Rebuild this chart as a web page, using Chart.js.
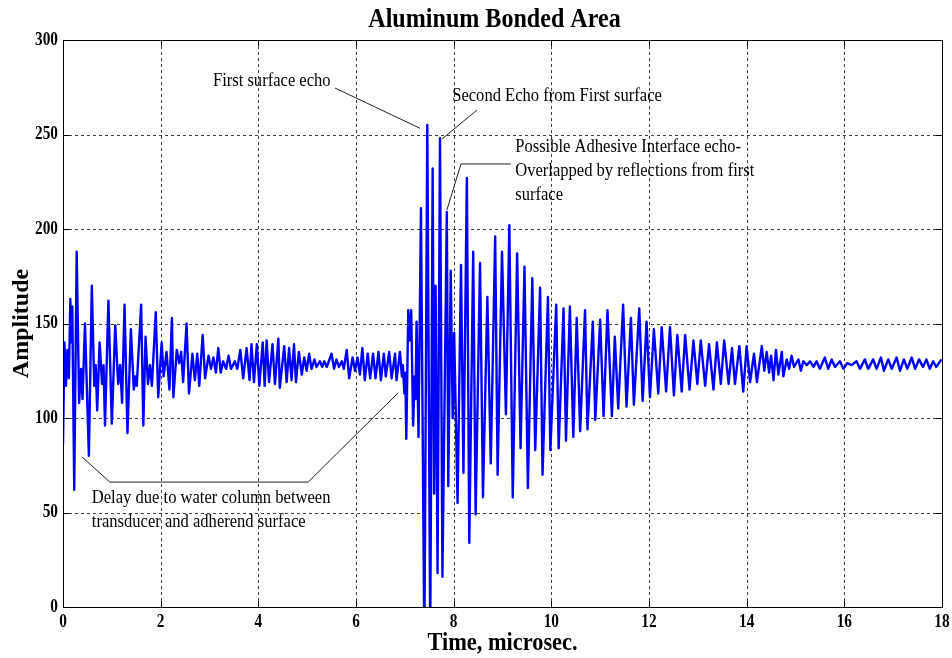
<!DOCTYPE html>
<html>
<head>
<meta charset="utf-8">
<title>Aluminum Bonded Area</title>
<script src="https://cdn.jsdelivr.net/npm/chart.js@4.4.1/dist/chart.umd.min.js"></script>
<style>
  html, body { margin: 0; padding: 0; background: #fff; }
  #wrap { width: 952px; height: 658px; }
</style>
</head>
<body>
<div id="wrap"><canvas id="scan" width="952" height="658"></canvas></div>
<script>
// A-scan turning points (time in microsec., amplitude in counts)
// water path delay / front wall ringing
const delayTime = [0.00, 0.03, 0.06, 0.09, 0.12, 0.15, 0.17, 0.19, 0.23, 0.28, 0.33, 0.37, 0.40, 0.45, 0.53, 0.59,
  0.64, 0.67, 0.70, 0.75, 0.80, 0.83, 0.86, 0.93, 1.00, 1.07, 1.13, 1.17, 1.21, 1.26, 1.32, 1.39, 1.45, 1.48, 1.51,
  1.60, 1.645, 1.69, 1.74, 1.78, 1.82, 1.90, 1.95, 2.02, 2.06, 2.12, 2.18, 2.23, 2.26, 2.33, 2.38, 2.42, 2.46, 2.53,
  2.58, 2.65, 2.70, 2.75, 2.79, 2.86, 2.91, 2.98, 3.03, 3.08, 3.13, 3.18, 3.23, 3.28, 3.34, 3.39, 3.44, 3.52, 3.57,
  3.63, 3.69, 3.76, 3.82, 3.86, 3.91, 3.97, 4.02, 4.09, 4.13, 4.17, 4.22, 4.29, 4.34, 4.41, 4.44, 4.53, 4.58, 4.63,
  4.68, 4.73, 4.77, 4.83, 4.89, 4.94, 4.99, 5.04, 5.09, 5.15, 5.19, 5.26, 5.31, 5.35, 5.40, 5.50, 5.55, 5.60, 5.65,
  5.71, 5.75, 5.81, 5.86, 5.93, 5.98, 6.03, 6.08, 6.13, 6.18, 6.24, 6.29, 6.35, 6.40, 6.46, 6.51, 6.57, 6.61, 6.68,
  6.73, 6.80, 6.83, 6.90, 6.94, 6.96];
const delayAmp = [86, 140, 117, 136, 121, 163, 140, 159, 62, 188, 108, 126, 110, 150, 80, 170,
  117, 128, 104, 140, 118, 128, 96, 162, 97, 149, 118, 128, 108, 160, 92, 147, 115, 122, 117,
  160, 96, 143, 118, 128, 117, 156, 111, 140, 122, 135, 115, 153, 111, 136, 129, 135, 119, 150,
  113, 134, 120, 134, 117, 144, 121, 133, 126, 132, 124, 137, 124, 130, 126, 133, 126, 130, 126,
  136, 121, 137, 120, 139, 119, 139, 117, 140, 117, 141, 119, 139, 118, 142, 116, 138, 119, 137,
  120, 139, 119, 135, 123, 132, 125, 134, 126, 131, 127, 130, 127, 130, 127, 134, 126, 131, 127,
  130, 126, 136, 121, 132, 125, 132, 123, 137, 120, 134, 121, 134, 121, 135, 120, 134, 122, 135,
  121, 134, 120, 135, 122, 128];

// echoes from the first surface and the bond line
const burstTime = [6.99, 7.01, 7.03, 7.07, 7.10, 7.13, 7.17, 7.20, 7.22, 7.24, 7.28, 7.33, 7.40, 7.46, 7.52, 7.57,
  7.60, 7.63, 7.67, 7.72, 7.77, 7.86, 7.89, 7.94, 7.98, 8.01, 8.08, 8.15, 8.20, 8.27, 8.32, 8.40, 8.45, 8.54, 8.60,
  8.69, 8.76, 8.85, 8.90, 8.99, 9.07, 9.14, 9.21, 9.30, 9.37, 9.45, 9.52, 9.61, 9.67, 9.77, 9.82, 9.93, 9.98, 10.10,
  10.15, 10.25, 10.30, 10.38, 10.45, 10.52, 10.59, 10.69, 10.74, 10.85, 10.90, 11.00];
const burstAmp = [113, 124, 89, 157, 141, 157, 96, 122, 110, 151, 90, 211, -20, 255, -15, 232,
  60, 170, 18, 248, 16, 209, 64, 178, 100, 145, 55, 181, 71, 227, 34, 188, 49, 182, 58,
  164, 76, 196, 70, 188, 102, 202, 58, 187, 84, 180, 63, 174, 83, 169, 70, 164, 83, 160,
  84, 158, 88, 159, 90, 153, 93, 157, 94, 151, 99, 152];

// decaying reverberation
const tailTime = [11.07, 11.15, 11.24, 11.30, 11.37, 11.47, 11.54, 11.63, 11.69, 11.80, 11.87, 11.95, 12.02, 12.10,
  12.19, 12.26, 12.35, 12.43, 12.51, 12.58, 12.67, 12.74, 12.83, 12.91, 12.99, 13.06, 13.15, 13.23, 13.32, 13.39,
  13.47, 13.54, 13.63, 13.70, 13.76, 13.85, 13.93, 14.00, 14.07, 14.15, 14.21, 14.31, 14.36, 14.41, 14.46, 14.50,
  14.55, 14.60, 14.65, 14.72, 14.75, 14.82, 14.87, 14.92, 14.97, 15.06, 15.11, 15.16, 15.23, 15.30, 15.37, 15.43,
  15.50, 15.60, 15.67, 15.74, 15.81, 15.91, 15.98, 16.06, 16.15, 16.25, 16.32, 16.42, 16.49, 16.59, 16.66, 16.75,
  16.81, 16.90, 16.97, 17.07, 17.14, 17.22, 17.29, 17.38, 17.45, 17.53, 17.61, 17.68, 17.75, 17.82, 17.88, 17.99];
const tailAmp = [101, 157, 101, 143, 105, 160, 106, 153, 107, 158, 109, 151, 111, 147,
  113, 148, 114, 148, 112, 144, 114, 144, 115, 141, 118, 141, 117, 139, 115, 140,
  118, 141, 118, 137, 118, 138, 114, 138, 119, 134, 119, 138, 125, 135, 124, 133,
  120, 136, 123, 135, 122, 131, 126, 133, 127, 131, 125, 130, 128, 130, 127, 130,
  126, 132, 126, 131, 127, 130, 126, 129, 128, 130, 126, 131, 126, 131, 126, 132,
  125, 131, 126, 132, 125, 131, 126, 132, 126, 131, 127, 131, 126, 130, 127, 131];

const xTicks = [0, 2, 4, 6, 8, 10, 12, 14, 16, 18];
const yTicks = [0, 50, 100, 150, 200, 250, 300];

const chartTitle = 'Aluminum Bonded Area';
const xTitle = 'Time, microsec.';
const yTitle = 'Amplitude';

// callouts, anchored in data units (t, amplitude)
const notes = [
  { text: ['First surface echo'], at: [3.07, 278] },
  { text: ['Second Echo from First surface'], at: [7.97, 270] },
  { text: ['Possible Adhesive Interface echo-', 'Overlapped by reflections from first', 'surface'], at: [9.26, 243.5] },
  { text: ['Delay due to water column between', 'transducer and adherend surface'], at: [0.59, 57.5] }
];
const leaders = [
  [[5.57, 274.6], [7.31, 253.3]],
  [[8.48, 263.0], [7.76, 247.6]],
  [[9.17, 234.4], [8.15, 234.4], [7.86, 210.0]],
  [[0.39, 79.4], [0.96, 66.1], [5.02, 66.1], [6.86, 113.2]]
];

function toPoints(ts, vs) {
  return ts.map((t, i) => ({ x: t, y: vs[i] }));
}
const scanPoints = [].concat(
  toPoints(delayTime, delayAmp),
  toPoints(burstTime, burstAmp),
  toPoints(tailTime, tailAmp)
);

const SERIF = '"Liberation Serif", "Times New Roman", serif';

// text drawn narrower than the font, like the old MATLAB export
function squeezedText(ctx, str, x, y, font, sx, align, angle) {
  ctx.save();
  ctx.translate(x, y);
  if (angle) ctx.rotate(angle);
  ctx.scale(sx, 1);
  ctx.font = font;
  ctx.fillStyle = '#000';
  ctx.textAlign = align || 'center';
  ctx.textBaseline = 'middle';
  ctx.fillText(str, 0, 0);
  ctx.restore();
}

const matlabAxes = {
  id: 'matlabAxes',
  beforeDatasetsDraw(chart) {
    const { ctx, chartArea: a, scales: { x, y } } = chart;
    ctx.save();
    ctx.strokeStyle = 'rgba(0,0,0,0.75)';
    ctx.lineWidth = 1;
    ctx.setLineDash([3, 3]);
    xTicks.slice(1, -1).forEach(v => {
      const px = Math.round(x.getPixelForValue(v)) + 0.5;
      ctx.beginPath(); ctx.moveTo(px, a.top); ctx.lineTo(px, a.bottom); ctx.stroke();
    });
    yTicks.slice(1, -1).forEach(v => {
      const py = Math.round(y.getPixelForValue(v)) + 0.5;
      ctx.beginPath(); ctx.moveTo(a.left, py); ctx.lineTo(a.right, py); ctx.stroke();
    });
    ctx.restore();
  },
  afterDatasetsDraw(chart) {
    const { ctx, chartArea: a, scales: { x, y } } = chart;
    ctx.save();
    // box and inward ticks
    ctx.strokeStyle = '#000';
    ctx.lineWidth = 1;
    ctx.setLineDash([]);
    ctx.strokeRect(Math.round(a.left) + 0.5, Math.round(a.top) + 0.5,
      Math.round(a.right - a.left), Math.round(a.bottom - a.top));
    const tl = 6;
    ctx.beginPath();
    xTicks.forEach(v => {
      const px = Math.round(x.getPixelForValue(v)) + 0.5;
      ctx.moveTo(px, a.bottom); ctx.lineTo(px, a.bottom - tl);
      ctx.moveTo(px, a.top); ctx.lineTo(px, a.top + tl);
    });
    yTicks.forEach(v => {
      const py = Math.round(y.getPixelForValue(v)) + 0.5;
      ctx.moveTo(a.left, py); ctx.lineTo(a.left + tl, py);
      ctx.moveTo(a.right, py); ctx.lineTo(a.right - tl, py);
    });
    ctx.stroke();

    // tick labels
    const tickFont = 'bold 18px ' + SERIF;
    xTicks.forEach(v => squeezedText(ctx, String(v), x.getPixelForValue(v), a.bottom + 15, tickFont, 0.85, 'center'));
    yTicks.forEach(v => squeezedText(ctx, String(v), a.left - 5, y.getPixelForValue(v), tickFont, 0.85, 'right'));

    // titles
    const cx = (a.left + a.right) / 2;
    squeezedText(ctx, chartTitle, cx - 8, 20, 'bold 28px ' + SERIF, 0.86, 'center');
    squeezedText(ctx, xTitle, cx, 643, 'bold 26px ' + SERIF, 0.86, 'center');
    squeezedText(ctx, yTitle, 22, (a.top + a.bottom) / 2, 'bold 24px ' + SERIF, 1, 'center', -Math.PI / 2);

    // callout leaders and texts
    ctx.strokeStyle = '#222';
    ctx.lineWidth = 1;
    leaders.forEach(path => {
      ctx.beginPath();
      path.forEach(([t, v], i) => {
        const px = x.getPixelForValue(t), py = y.getPixelForValue(v);
        if (i === 0) ctx.moveTo(px, py); else ctx.lineTo(px, py);
      });
      ctx.stroke();
    });
    notes.forEach(n => {
      const px = x.getPixelForValue(n.at[0]);
      const py = y.getPixelForValue(n.at[1]);
      n.text.forEach((line, i) => squeezedText(ctx, line, px, py + i * 24, '18px ' + SERIF, 0.92, 'left'));
    });
    ctx.restore();
  }
};

const scanChart = new Chart(document.getElementById('scan'), {
  type: 'line',
  data: {
    datasets: [{
      data: scanPoints,
      borderColor: '#0000ff',
      borderWidth: 2.4,
      borderJoinStyle: 'round',
      pointRadius: 0,
      tension: 0,
      fill: false
    }]
  },
  options: {
    responsive: false,
    animation: false,
    parsing: false,
    layout: { padding: { left: 63, right: 10, top: 40, bottom: 51 } },
    plugins: { legend: { display: false }, tooltip: { enabled: false } },
    scales: {
      x: { type: 'linear', min: 0, max: 18, display: false },
      y: { type: 'linear', min: 0, max: 300, display: false }
    }
  },
  plugins: [matlabAxes]
});
</script>
</body>
</html>
